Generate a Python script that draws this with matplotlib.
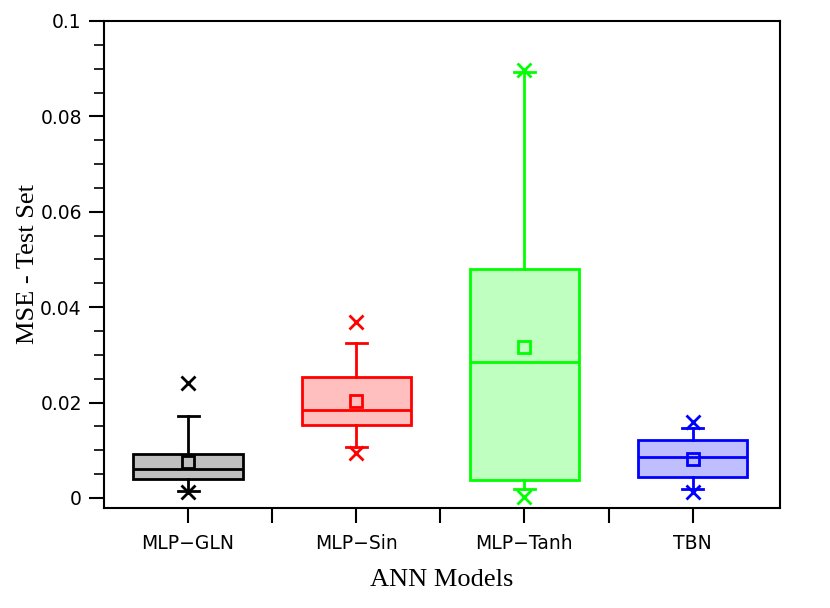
import matplotlib.pyplot as plt
import numpy as np

# values (MSE on test set)
models = ['MLP\u2212GLN', 'MLP\u2212Sin', 'MLP\u2212Tanh', 'TBN']
q1 = [0.0040, 0.0152, 0.0038, 0.0045]
med = [0.0061, 0.0184, 0.0285, 0.0085]
q3 = [0.0092, 0.0254, 0.0480, 0.0121]
whislo = [0.0015, 0.0106, 0.0018, 0.0018]
whishi = [0.0172, 0.0325, 0.0893, 0.0147]
means = [0.0075, 0.0203, 0.0317, 0.0082]
mins = [0.0012, 0.0095, 0.0003, 0.0012]
maxs = [0.0241, 0.0368, 0.0897, 0.0160]

edge_colors = ['black', '#ff0000', '#00ff00', '#0000ff']
fill_colors = ['#bfbfbf', '#ffbfbf', '#bfffbf', '#bfbfff']

fig = plt.figure(figsize=(8.3, 6.08), dpi=100)
ax = fig.add_axes([0.1253, 0.1645, 0.8145, 0.801])

positions = np.arange(1, len(models) + 1)

for i in range(len(models)):
	stats = [dict(q1=q1[i], med=med[i], q3=q3[i], whislo=whislo[i], whishi=whishi[i], fliers=[])]
	c = edge_colors[i]
	ax.bxp(stats, positions=[positions[i]], widths=0.65, capwidths=0.125,
		patch_artist=True, showfliers=False,
		boxprops=dict(facecolor=fill_colors[i], edgecolor=c, linewidth=2),
		medianprops=dict(color=c, linewidth=2),
		whiskerprops=dict(color=c, linewidth=2),
		capprops=dict(color=c, linewidth=2))
	ax.plot(positions[i], means[i], marker='s', ms=8, mfc='none', mec=c, mew=2, zorder=5)
	ax.plot([positions[i], positions[i]], [mins[i], maxs[i]], ls='none', marker='x',
		ms=10, mec=c, mew=2, zorder=5)

ax.set_xlim(0.5, 4.52)
ax.set_ylim(-0.0021, 0.1)

ax.set_yticks(np.arange(0, 0.101, 0.02))
ax.set_yticklabels(['0', '0.02', '0.04', '0.06', '0.08', '0.1'])
ax.set_yticks(np.arange(0, 0.101, 0.005), minor=True)
ax.set_xticks(positions)
ax.set_xticklabels(models)
ax.set_xticks(positions[:-1] + 0.5, minor=True)

ax.tick_params(axis='both', which='major', direction='out', length=11, width=1.5, labelsize=13.5, pad=5)
ax.tick_params(axis='both', which='minor', direction='out', length=7, width=1.2)
ax.tick_params(axis='x', which='minor', length=11, width=1.5)
ax.tick_params(axis='x', which='major', pad=8)

for s in ax.spines.values():
	s.set_linewidth(1.5)

ax.set_xlabel('ANN Models', family='Liberation Serif', fontsize=19, labelpad=11)
ax.set_ylabel('MSE - Test Set', family='Liberation Serif', fontsize=19, labelpad=1)

plt.savefig('out.png', dpi=100)
